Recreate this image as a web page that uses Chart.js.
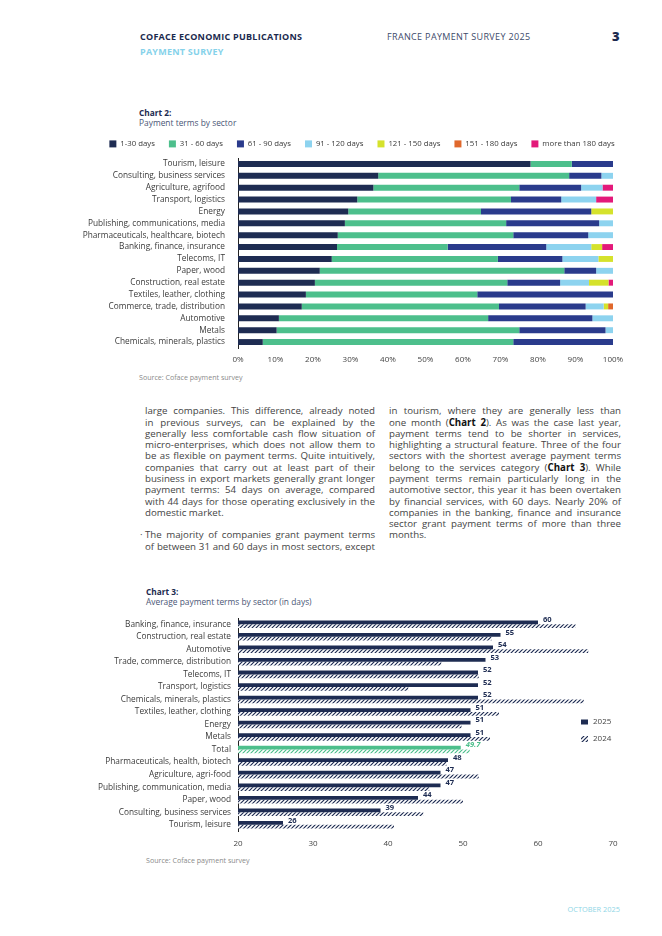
<!DOCTYPE html>
<html><head><meta charset="utf-8">
<script src="https://cdn.jsdelivr.net/npm/chart.js@4.4.1/dist/chart.umd.min.js"></script>
<style>
html,body{margin:0;padding:0;background:#fff;}
body{width:662px;height:936px;position:relative;overflow:hidden;font-family:"Open Sans",sans-serif;}
.t{position:absolute;white-space:nowrap;line-height:12px;}
.tl{position:absolute;white-space:nowrap;font-size:9.7px;line-height:11.27px;color:#444;}
.tl b{color:#111;}
canvas{position:absolute;}
</style></head><body>

<div class="t" style="left:140px;top:31px;font-size:9px;letter-spacing:0.25px;font-weight:700;color:#1b2a4e;">COFACE ECONOMIC PUBLICATIONS</div>
<div class="t" style="left:140px;top:46px;font-size:9px;letter-spacing:0.25px;font-weight:700;color:#86d2ea;">PAYMENT SURVEY</div>
<div class="t" style="left:387px;top:31px;font-size:9px;letter-spacing:0.35px;color:#3d4a6a;">FRANCE PAYMENT SURVEY 2025</div>
<div class="t" style="left:612px;top:29px;font-size:13px;font-weight:800;color:#1b2a4e;line-height:14px;">3</div>

<div class="t" style="left:139px;top:107px;font-size:8.3px;font-weight:700;color:#1b2a4e;">Chart 2:</div>
<div class="t" style="left:139px;top:117px;font-size:8.4px;color:#4a5675;">Payment terms by sector</div>
<canvas id="c2" width="568" height="240" style="left:78px;top:126px;"></canvas>
<div class="t" style="left:139px;top:371px;font-size:7.1px;color:#8a8a8a;">Source: Coface payment survey</div>

<div class="t" style="left:146px;top:586px;font-size:8.3px;font-weight:700;color:#1b2a4e;">Chart 3:</div>
<div class="t" style="left:146px;top:596px;font-size:8.4px;color:#4a5675;">Average payment terms by sector (in days)</div>
<canvas id="c3" width="535" height="239" style="left:90px;top:610px;"></canvas>
<div class="t" style="left:146px;top:854px;font-size:7.1px;color:#8a8a8a;">Source: Coface payment survey</div>

<div class="t" style="right:42px;top:903px;font-size:7.4px;color:#8fd6e6;">OCTOBER 2025</div>

<script>
// ---------- Chart 2 data ----------
const sectors2 = ["Tourism, leisure","Consulting, business services","Agriculture, agrifood","Transport, logistics","Energy","Publishing, communications, media","Pharmaceuticals, healthcare, biotech","Banking, finance, insurance","Telecoms, IT","Paper, wood","Construction, real estate","Textiles, leather, clothing","Commerce, trade, distribution","Automotive","Metals","Chemicals, minerals, plastics"];
const bandNames = ["1-30 days","31 - 60 days","61 - 90 days","91 - 120 days","121 - 150 days","151 - 180 days","more than 180 days"];
const d1_30   = [78.0,37.4,36.1,31.8,29.4,28.5,26.6,26.4,25.0,21.8,20.5,18.1,17.0,10.9,10.3,6.6];
const d31_60  = [11.0,50.9,38.9,41.0,35.4,43.0,46.8,29.5,44.3,65.2,51.3,45.7,52.6,55.8,64.7,66.8];
const d61_90  = [11.0,8.6,16.5,13.4,29.4,24.8,20.0,26.3,17.2,8.5,14.1,36.2,23.1,27.8,23.0,26.6];
const d91_120 = [0,3.1,5.7,9.3,0,3.7,6.6,12.0,9.6,4.5,7.7,0,4.8,5.5,2.0,0];
const d121_150= [0,0,0,0,5.8,0,0,2.9,3.9,0,5.2,0,1.2,0,0,0];
const d151_180= [0,0,0,0,0,0,0,0,0,0,0,0,1.3,0,0,0];
const d180p   = [0,0,2.8,4.5,0,0,0,2.9,0,0,1.2,0,0,0,0,0];
const xTicks2 = [0,10,20,30,40,50,60,70,80,90,100];

// ---------- Chart 3 data ----------
const sectors3 = ["Banking, finance, insurance","Construction, real estate","Automotive","Trade, commerce, distribution","Telecoms, IT","Transport, logistics","Chemicals, minerals, plastics","Textiles, leather, clothing","Energy","Metals","Total","Pharmaceuticals, health, biotech","Agriculture, agri-food","Publishing, communication, media","Paper, wood","Consulting, business services","Tourism, leisure"];
const v2025 = [60,55,54,53,52,52,52,51,51,51,49.7,48,47,47,44,39,26];
const v2024 = [65,53.8,66.7,47.1,52.1,42.7,66.1,54.8,49.8,53.6,50.9,47.8,52.1,45.5,50,44.7,40.8];
const series3 = ["2025","2024"];
const xTicks3 = [20,30,40,50,60,70];

// ---------- body text ----------
const leftLines = [
 "large companies. This difference, already noted",
 "in previous surveys, can be explained by the",
 "generally less comfortable cash flow situation of",
 "micro-enterprises, which does not allow them to",
 "be as flexible on payment terms. Quite intuitively,",
 "companies that carry out at least part of their",
 "business in export markets generally grant longer",
 "payment terms: 54 days on average, compared",
 "with 44 days for those operating exclusively in the",
 "domestic market.",
 null,
 "The majority of companies grant payment terms",
 "of between 31 and 60 days in most sectors, except"
];
const leftNoJust = [9];
const rightLines = [
 "in tourism, where they are generally less than",
 "one month (<b>Chart 2</b>). As was the case last year,",
 "payment terms tend to be shorter in services,",
 "highlighting a structural feature. Three of the four",
 "sectors with the shortest average payment terms",
 "belong to the services category (<b>Chart 3</b>). While",
 "payment terms remain particularly long in the",
 "automotive sector, this year it has been overtaken",
 "by financial services, with 60 days. Nearly 20% of",
 "companies in the banking, finance and insurance",
 "sector grant payment terms of more than three",
 "months."
];
const rightNoJust = [11];

function placeLines(lines, noJust, left, width, firstCenter, lh){
  lines.forEach((ln,i)=>{
    if(ln===null) return;
    const d=document.createElement('div');
    d.className='tl';
    d.style.left=left+'px';
    d.style.top=(firstCenter - lh/2 + i*lh)+'px';
    d.innerHTML=ln;
    document.body.appendChild(d);
    if(!noJust.includes(i)){
      const w=d.getBoundingClientRect().width;
      const n=(d.textContent.match(/ /g)||[]).length;
      if(n) d.style.wordSpacing=((width-w)/n)+'px';
    }
  });
}
placeLines(leftLines,leftNoJust,145,230,411,11.27);
placeLines(rightLines,rightNoJust,389,232,411,11.27);
(function(){const b=document.createElement('div');b.className='tl';b.style.left='140px';b.style.top=(411-5.6+11*11.27)+'px';b.textContent='·';document.body.appendChild(b);})();

// ---------- Charts ----------
const F = "'Open Sans', sans-serif";
const NAVY = '#1e2c52';
const GREEN = '#4dbf8c';
const bandColors = ['#1e2c52','#4dbf8c','#2a3b8c','#8dd3ef','#d5e22c','#e0682c','#e3197a'];
const bands = [d1_30,d31_60,d61_90,d91_120,d121_150,d151_180,d180p];

const legendFix = { id:'legendFix', beforeLayout(chart){
  const lg = chart.legend;
  if(lg && !lg._patched){ const f=lg.fit; lg.fit=function(){ f.call(this); this.height=32; }; lg._patched=true; }
}};
function noPad(s){ s.paddingTop=0; s.paddingBottom=0; s.paddingLeft=0; s.paddingRight=0; }

new Chart(document.getElementById('c2'), {
  type:'bar',
  data:{ labels:sectors2, datasets: bandNames.map((n,i)=>({label:n,data:bands[i],backgroundColor:bandColors[i],barPercentage:1,categoryPercentage:0.5})) },
  options:{
    indexAxis:'y', responsive:false, animation:false,
    layout:{padding:{left:0,right:0,top:0,bottom:0}},
    scales:{
      x:{stacked:true,min:0,max:100,
         afterBuildTicks(s){ s.ticks = xTicks2.map(v=>({value:v})); },
         ticks:{callback:v=>v+'%',font:{size:8,family:F},color:'#444',padding:7,maxRotation:0},
         grid:{display:false,drawTicks:false},border:{display:false},
         afterFit(s){ s.height=18; noPad(s); }},
      y:{stacked:true,grid:{display:false,drawTicks:false},border:{display:true,color:'#222',width:1},
         ticks:{font:{size:8.3,family:F},color:'#3a3a3a',padding:13,autoSkip:false},
         afterFit(s){ s.width=160; noPad(s); }},
      yR:{axis:'y',type:'category',position:'right',display:true,
         grid:{display:false,drawTicks:false},border:{display:false},ticks:{display:false},
         afterFit(s){ s.width=33; noPad(s); }}
    },
    plugins:{
      legend:{position:'top',labels:{boxWidth:7,boxHeight:7,padding:14,font:{size:7.8,family:F},color:'#3a3a3a'}},
      tooltip:{enabled:false}
    }
  },
  plugins:[legendFix]
});

function hatch(color){
  const c=document.createElement('canvas'); c.width=4; c.height=4;
  const g=c.getContext('2d');
  g.fillStyle='#fff'; g.fillRect(0,0,4,4);
  g.strokeStyle=color; g.lineWidth=1.2; g.beginPath();
  g.moveTo(0,4); g.lineTo(4,0);
  g.moveTo(-1,1); g.lineTo(1,-1);
  g.moveTo(3,5); g.lineTo(5,3);
  g.stroke();
  return g.createPattern(c,'repeat');
}
const patNavy = hatch(NAVY), patGreen = hatch(GREEN);

const labels3 = { id:'labels3', afterDatasetsDraw(chart){
  const ctx=chart.ctx, meta=chart.getDatasetMeta(0);
  ctx.save();
  ctx.textAlign='left'; ctx.textBaseline='middle';
  meta.data.forEach((bar,i)=>{
    const tot = sectors3[i]==='Total';
    ctx.font = (tot?'italic ':'')+'700 7.6px '+F;
    ctx.fillStyle = tot?GREEN:NAVY;
    ctx.fillText(String(v2025[i]), bar.x+5, bar.y-2.5);
  });
  ctx.restore();
}};
const legend3 = { id:'legend3', afterDraw(chart){
  const ctx=chart.ctx, a=chart.chartArea;
  const x=a.right-32, y1=a.top+104, y2=a.top+121;
  ctx.save();
  ctx.fillStyle=NAVY; ctx.fillRect(x,y1-2.5,7,5);
  ctx.fillStyle=patNavy; ctx.fillRect(x,y2-3,7,6);
  ctx.font='8px '+F; ctx.fillStyle='#444'; ctx.textBaseline='middle'; ctx.textAlign='left';
  ctx.fillText(series3[0],x+12,y1);
  ctx.fillText(series3[1],x+12,y2);
  ctx.restore();
}};

new Chart(document.getElementById('c3'), {
  type:'bar',
  data:{ labels:sectors3, datasets:[
    {label:series3[0],data:v2025,backgroundColor:sectors3.map(s=>s==='Total'?GREEN:NAVY),barPercentage:1,categoryPercentage:0.6,base:20},
    {label:series3[1],data:v2024,backgroundColor:sectors3.map(s=>s==='Total'?patGreen:patNavy),barPercentage:1,categoryPercentage:0.6,base:20}
  ]},
  options:{
    indexAxis:'y', responsive:false, animation:false,
    layout:{padding:{left:0,right:12,top:8,bottom:0}},
    scales:{
      x:{min:20,max:70,
         afterBuildTicks(s){ s.ticks = xTicks3.map(v=>({value:v})); },
         ticks:{font:{size:8,family:F},color:'#444',padding:8,maxRotation:0},
         grid:{display:false,drawTicks:false},border:{display:false},
         afterFit(s){ s.height=18; noPad(s); }},
      y:{grid:{display:false,drawTicks:false},border:{display:true,color:'#222',width:1},
         ticks:{font:{size:8.3,family:F},color:'#3a3a3a',padding:7,autoSkip:false},
         afterFit(s){ s.width=148; noPad(s); }}
    },
    plugins:{legend:{display:false},tooltip:{enabled:false}}
  },
  plugins:[labels3,legend3]
});
</script>
</body></html>
